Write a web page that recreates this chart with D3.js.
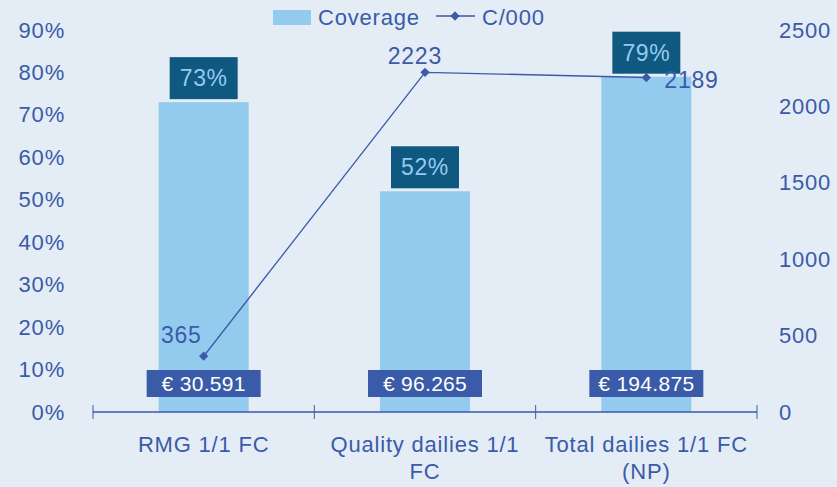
<!DOCTYPE html>
<html>
<head>
<meta charset="utf-8">
<script src="https://cdn.jsdelivr.net/npm/d3@7"></script>
<style>
  html, body { margin: 0; padding: 0; background: #e4ecf6; }
  svg { display: block; font-family: "Liberation Sans", Arial, sans-serif; }
  .lbl { fill: #3a5ba8; letter-spacing: 0.8px; }
</style>
</head>
<body>
<div class="chart"></div>
<script>
const categories = ["RMG 1/1 FC", "Quality dailies 1/1 FC", "Total dailies 1/1 FC (NP)"];
const categoryLines = [["RMG 1/1 FC"], ["Quality dailies 1/1", "FC"], ["Total dailies 1/1 FC", "(NP)"]];
const coverage = [0.73, 0.52, 0.79];
const cpm = [365, 2223, 2189];
const spend = ["€ 30.591", "€ 96.265", "€ 194.875"];
const leftTicks = [0, 0.1, 0.2, 0.3, 0.4, 0.5, 0.6, 0.7, 0.8, 0.9];
const rightTicks = [0, 500, 1000, 1500, 2000, 2500];

const width = 837, height = 487;
const blue = "#3a5ba8", barColor = "#93cbee", dark = "#0f5880";

const svg = d3.select(".chart").append("svg")
    .attr("width", width)
    .attr("height", height);

svg.append("rect").attr("width", width).attr("height", height).attr("fill", "#e4ecf6");

const x = d3.scaleBand().domain(categories).range([93, 757]).padding(0);
const yL = d3.scaleLinear().domain([0, 0.9]).range([412, 30]);
const yR = d3.scaleLinear().domain([0, 2500]).range([412, 30]);
const barW = 90;
const cx = c => x(c) + x.bandwidth() / 2;

// left axis (labels only)
const gl = svg.append("g")
    .attr("transform", "translate(68,0)")
    .call(d3.axisLeft(yL).tickValues(leftTicks).tickFormat(d3.format(".0%")).tickSize(0).tickPadding(3));
gl.select(".domain").remove();
gl.selectAll("text").attr("class", "lbl").attr("fill", blue).style("font-size", "22px").style("font-family", "Liberation Sans, Arial, sans-serif");

// right axis (labels only)
const gr = svg.append("g")
    .attr("transform", "translate(776,0)")
    .call(d3.axisRight(yR).tickValues(rightTicks).tickFormat(d3.format("d")).tickSize(0).tickPadding(3));
gr.select(".domain").remove();
gr.selectAll("text").attr("class", "lbl").attr("fill", blue).style("font-size", "22px").style("font-family", "Liberation Sans, Arial, sans-serif");

// bars
svg.selectAll(".bar")
    .data(categories)
    .enter().append("rect")
    .attr("class", "bar")
    .attr("x", c => cx(c) - barW / 2)
    .attr("width", barW)
    .attr("y", (c, i) => yL(coverage[i]))
    .attr("height", (c, i) => yL(0) - yL(coverage[i]))
    .attr("fill", barColor);

// bottom axis line with ticks at band edges
const edges = categories.map(c => x(c)).concat([x.range()[1]]);
svg.append("line")
    .attr("x1", x.range()[0]).attr("x2", x.range()[1])
    .attr("y1", yL(0)).attr("y2", yL(0))
    .attr("stroke", blue).attr("stroke-width", 1.3);
svg.selectAll(".xtick")
    .data(edges)
    .enter().append("line")
    .attr("x1", d => d).attr("x2", d => d)
    .attr("y1", yL(0) - 7).attr("y2", yL(0) + 7)
    .attr("stroke", blue).attr("stroke-width", 1);

// category labels
categories.forEach((c, i) => {
    const t = svg.append("text")
        .attr("class", "lbl")
        .attr("text-anchor", "middle")
        .style("font-size", "22px");
    categoryLines[i].forEach((line, j) => {
        t.append("tspan").attr("x", cx(c)).attr("y", 452 + j * 27).text(line);
    });
});

// coverage boxes
const pct = svg.selectAll(".pct")
    .data(categories)
    .enter().append("g")
    .attr("transform", (c, i) => `translate(${cx(c)},${yL(coverage[i]) - 3})`);
pct.append("rect")
    .attr("x", -34).attr("y", -42).attr("width", 68).attr("height", 42)
    .attr("fill", dark);
pct.append("text")
    .attr("text-anchor", "middle")
    .attr("y", -13)
    .attr("fill", barColor)
    .style("font-size", "23px")
    .style("letter-spacing", "0.6px")
    .text((c, i) => d3.format(".0%")(coverage[i]));

// spend boxes
const sp = svg.selectAll(".spend")
    .data(categories)
    .enter().append("g")
    .attr("transform", c => `translate(${cx(c)},370)`);
sp.append("rect")
    .attr("x", -57).attr("y", 0).attr("width", 114).attr("height", 27)
    .attr("fill", blue);
sp.append("text")
    .attr("text-anchor", "middle")
    .attr("y", 21)
    .attr("fill", "#ffffff")
    .style("font-size", "21px")
    .style("letter-spacing", "0.3px")
    .text((c, i) => spend[i]);

// line series
const line = d3.line()
    .x((d, i) => cx(categories[i]))
    .y(d => yR(d));
svg.append("path")
    .datum(cpm)
    .attr("d", line)
    .attr("fill", "none")
    .attr("stroke", blue)
    .attr("stroke-width", 1.3);

const diamond = d3.symbol().type(d3.symbolDiamond2).size(55);
svg.selectAll(".pt")
    .data(cpm)
    .enter().append("path")
    .attr("d", diamond)
    .attr("transform", (d, i) => `translate(${cx(categories[i])},${yR(d)})`)
    .attr("fill", blue);

// line value labels
const lblOffsets = [{dx: -2, dy: -13, anchor: "end"}, {dx: 17, dy: -8, anchor: "end"}, {dx: 18, dy: 10, anchor: "start"}];
svg.selectAll(".vl")
    .data(cpm)
    .enter().append("text")
    .attr("class", "lbl")
    .attr("x", (d, i) => cx(categories[i]) + lblOffsets[i].dx)
    .attr("y", (d, i) => yR(d) + lblOffsets[i].dy)
    .attr("text-anchor", (d, i) => lblOffsets[i].anchor)
    .style("font-size", "23px")
    .text(d => d);

// legend
const lg = svg.append("g");
lg.append("rect").attr("x", 273).attr("y", 10).attr("width", 38).attr("height", 15).attr("fill", barColor);
lg.append("text").attr("class", "lbl").attr("x", 318).attr("y", 25).style("font-size", "22px").text("Coverage");
lg.append("line").attr("x1", 436).attr("x2", 475).attr("y1", 16).attr("y2", 16).attr("stroke", blue).attr("stroke-width", 1.3);
lg.append("path").attr("d", diamond).attr("transform", "translate(455,16)").attr("fill", blue);
lg.append("text").attr("class", "lbl").attr("x", 482).attr("y", 25).style("font-size", "22px").text("C/000");
</script>
</body>
</html>
